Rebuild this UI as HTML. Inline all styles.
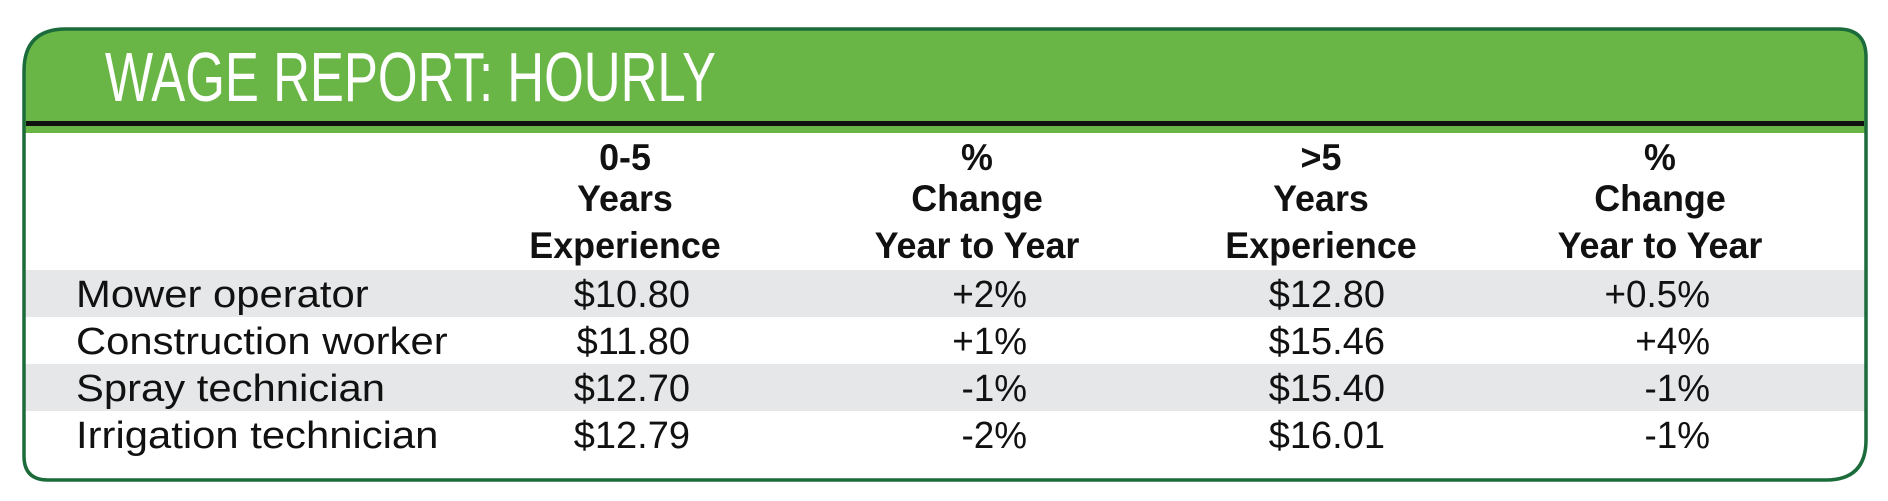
<!DOCTYPE html>
<html><head><meta charset="utf-8"><style>
html,body{margin:0;padding:0;background:#fff;width:1888px;height:501px;overflow:hidden}
svg{display:block}
</style></head><body>
<svg id="chart" width="1888" height="501" viewBox="0 0 1888 501" font-family="'Liberation Sans', sans-serif">
  <defs><clipPath id="frameClip"><path d="M66,29 H1838 Q1866,29 1866,57 V440 Q1866,480 1826,480 H48 Q24,480 24,456 V71 Q24,29 66,29 Z"/></clipPath></defs>
  <g clip-path="url(#frameClip)">
    <rect x="0" y="0" width="1888" height="501" fill="#ffffff"/>
    <rect x="0" y="0" width="1888" height="133" fill="#69b646"/>
    <g id="rows"></g>
  </g>
  <rect x="26" y="121" width="1838" height="5" fill="#111"/>
  <path d="M66,29 H1838 Q1866,29 1866,57 V440 Q1866,480 1826,480 H48 Q24,480 24,456 V71 Q24,29 66,29 Z" fill="none" stroke="#1b6b3b" stroke-width="3.5"/>
  <text x="105" y="101" font-size="70" fill="#fff" textLength="611" lengthAdjust="spacingAndGlyphs">WAGE REPORT: HOURLY</text>
  <g id="heads"></g>
</svg>
<script>
const jobs = ["Mower operator","Construction worker","Spray technician","Irrigation technician"];
const wageJunior = ["$10.80","$11.80","$12.70","$12.79"];
const changeJunior = ["+2%","+1%","-1%","-2%"];
const wageSenior = ["$12.80","$15.46","$15.40","$16.01"];
const changeSenior = ["+0.5%","+4%","-1%","-1%"];
const headers = [["0-5","Years","Experience"],["%","Change","Year to Year"],[">5","Years","Experience"],["%","Change","Year to Year"]];

const NS="http://www.w3.org/2000/svg";
const rowsG=document.getElementById('rows');
const headsG=document.getElementById('heads');
const rowTop=270, rowH=47;
function txt(parent,s,x,y,size,anchor,weight,sx){
  const t=document.createElementNS(NS,'text');
  t.setAttribute('transform','translate('+x+','+y+') scale('+sx+',1)');
  t.setAttribute('font-size',size);
  t.setAttribute('text-anchor',anchor);
  t.setAttribute('font-weight',weight);
  t.setAttribute('fill','#111');
  t.textContent=s;
  parent.appendChild(t);
  return t;
}
const headCenters=[625,977,1321,1660];
const headBase=[170,211,258];
headers.forEach((h,ci)=>{
  h.forEach((line,li)=>{
    const t=txt(headsG,line,headCenters[ci],headBase[li],37,'middle','bold',0.97);
    
    
  });
});
const cols=[{arr:wageJunior,x:690,n:'wage-0-5',s:1.0},{arr:changeJunior,x:1027,n:'change-0-5',s:0.97},{arr:wageSenior,x:1385,n:'wage-over-5',s:1.0},{arr:changeSenior,x:1710,n:'change-over-5',s:0.97}];
jobs.forEach((job,i)=>{
  const y=rowTop+i*rowH;
  if(i%2===0){
    const r=document.createElementNS(NS,'rect');
    r.setAttribute('x',0);r.setAttribute('y',y);r.setAttribute('width',1888);r.setAttribute('height',rowH);
    r.setAttribute('fill','#e6e7e8');
    
    
    rowsG.appendChild(r);
  }
  const base=y+37;
  const l=txt(headsG,job,76,base,38,'start','normal',1.1);
  
  
  cols.forEach(c=>{
    const t=txt(headsG,c.arr[i],c.x,base,38,'end','normal',c.s);
    
    
  });
});
</script>
</body></html>
